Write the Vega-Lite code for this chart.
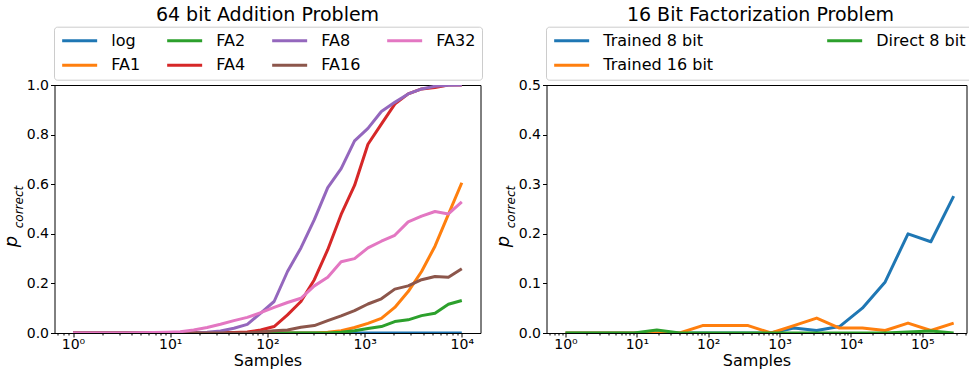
{
  "$schema": "https://vega.github.io/schema/vega-lite/v6.json",
  "background": "white",
  "padding": {"left": 1.5, "top": 5, "right": 0, "bottom": 0},
  "bounds": "flush",
  "spacing": 66,
  "resolve": {"scale": {"color": "independent"}, "legend": {"color": "independent"}},
  "config": {
    "font": "DejaVu Sans",
    "view": {"stroke": "black", "strokeWidth": 1},
    "axis": {
      "domain": false, "grid": false, "tickColor": "black", "tickSize": 4, "tickWidth": 1,
      "labelColor": "black", "labelFont": "DejaVu Sans", "labelFontSize": 14,
      "titleColor": "black", "titleFont": "DejaVu Sans", "titleFontSize": 16, "titleFontWeight": "normal"
    },
    "title": {"font": "DejaVu Sans", "fontSize": 19, "fontWeight": "normal", "color": "black", "frame": "group", "anchor": "middle", "offset": 1},
    "legend": {"labelFont": "DejaVu Sans", "labelColor": "black"}
  },
  "datasets": {
    "add": [
      {"samples":1,"series":"log","p":0},{"samples":1.374,"series":"log","p":0},{"samples":1.887,"series":"log","p":0},{"samples":2.593,"series":"log","p":0},{"samples":3.562,"series":"log","p":0},{"samples":4.894,"series":"log","p":0},{"samples":6.723,"series":"log","p":0},{"samples":9.237,"series":"log","p":0},{"samples":12.69,"series":"log","p":0},{"samples":17.43,"series":"log","p":0},{"samples":23.95,"series":"log","p":0},{"samples":32.9,"series":"log","p":0},{"samples":45.2,"series":"log","p":0},{"samples":62.1,"series":"log","p":0},{"samples":85.3,"series":"log","p":0},{"samples":117.2,"series":"log","p":0},{"samples":161.0,"series":"log","p":0},{"samples":221.2,"series":"log","p":0},{"samples":303.9,"series":"log","p":0},{"samples":417.5,"series":"log","p":0},{"samples":573.6,"series":"log","p":0},{"samples":788.0,"series":"log","p":0},{"samples":1082.6,"series":"log","p":0},{"samples":1487.4,"series":"log","p":0},{"samples":2043.4,"series":"log","p":0},{"samples":2807.2,"series":"log","p":0},{"samples":3856.6,"series":"log","p":0},{"samples":5298.3,"series":"log","p":0},{"samples":7278.9,"series":"log","p":0},{"samples":10000,"series":"log","p":0},
      {"samples":1,"series":"FA1","p":0},{"samples":1.374,"series":"FA1","p":0},{"samples":1.887,"series":"FA1","p":0},{"samples":2.593,"series":"FA1","p":0},{"samples":3.562,"series":"FA1","p":0},{"samples":4.894,"series":"FA1","p":0},{"samples":6.723,"series":"FA1","p":0},{"samples":9.237,"series":"FA1","p":0},{"samples":12.69,"series":"FA1","p":0},{"samples":17.43,"series":"FA1","p":0},{"samples":23.95,"series":"FA1","p":0},{"samples":32.9,"series":"FA1","p":0},{"samples":45.2,"series":"FA1","p":0},{"samples":62.1,"series":"FA1","p":0},{"samples":85.3,"series":"FA1","p":0},{"samples":117.2,"series":"FA1","p":0},{"samples":161.0,"series":"FA1","p":0},{"samples":221.2,"series":"FA1","p":0},{"samples":303.9,"series":"FA1","p":0},{"samples":417.5,"series":"FA1","p":0.003},{"samples":573.6,"series":"FA1","p":0.009},{"samples":788.0,"series":"FA1","p":0.022},{"samples":1082.6,"series":"FA1","p":0.039},{"samples":1487.4,"series":"FA1","p":0.059},{"samples":2043.4,"series":"FA1","p":0.103},{"samples":2807.2,"series":"FA1","p":0.167},{"samples":3856.6,"series":"FA1","p":0.248},{"samples":5298.3,"series":"FA1","p":0.35},{"samples":7278.9,"series":"FA1","p":0.478},{"samples":10000,"series":"FA1","p":0.606},
      {"samples":1,"series":"FA2","p":0},{"samples":1.374,"series":"FA2","p":0},{"samples":1.887,"series":"FA2","p":0},{"samples":2.593,"series":"FA2","p":0},{"samples":3.562,"series":"FA2","p":0},{"samples":4.894,"series":"FA2","p":0},{"samples":6.723,"series":"FA2","p":0},{"samples":9.237,"series":"FA2","p":0},{"samples":12.69,"series":"FA2","p":0},{"samples":17.43,"series":"FA2","p":0},{"samples":23.95,"series":"FA2","p":0},{"samples":32.9,"series":"FA2","p":0},{"samples":45.2,"series":"FA2","p":0},{"samples":62.1,"series":"FA2","p":0},{"samples":85.3,"series":"FA2","p":0},{"samples":117.2,"series":"FA2","p":0},{"samples":161.0,"series":"FA2","p":0},{"samples":221.2,"series":"FA2","p":0},{"samples":303.9,"series":"FA2","p":0},{"samples":417.5,"series":"FA2","p":0},{"samples":573.6,"series":"FA2","p":0.003},{"samples":788.0,"series":"FA2","p":0.009},{"samples":1082.6,"series":"FA2","p":0.018},{"samples":1487.4,"series":"FA2","p":0.026},{"samples":2043.4,"series":"FA2","p":0.046},{"samples":2807.2,"series":"FA2","p":0.053},{"samples":3856.6,"series":"FA2","p":0.07},{"samples":5298.3,"series":"FA2","p":0.08},{"samples":7278.9,"series":"FA2","p":0.116},{"samples":10000,"series":"FA2","p":0.131},
      {"samples":1,"series":"FA4","p":0},{"samples":1.374,"series":"FA4","p":0},{"samples":1.887,"series":"FA4","p":0},{"samples":2.593,"series":"FA4","p":0},{"samples":3.562,"series":"FA4","p":0},{"samples":4.894,"series":"FA4","p":0},{"samples":6.723,"series":"FA4","p":0},{"samples":9.237,"series":"FA4","p":0},{"samples":12.69,"series":"FA4","p":0},{"samples":17.43,"series":"FA4","p":0},{"samples":23.95,"series":"FA4","p":0},{"samples":32.9,"series":"FA4","p":0.001},{"samples":45.2,"series":"FA4","p":0.002},{"samples":62.1,"series":"FA4","p":0.004},{"samples":85.3,"series":"FA4","p":0.012},{"samples":117.2,"series":"FA4","p":0.026},{"samples":161.0,"series":"FA4","p":0.073},{"samples":221.2,"series":"FA4","p":0.127},{"samples":303.9,"series":"FA4","p":0.215},{"samples":417.5,"series":"FA4","p":0.336},{"samples":573.6,"series":"FA4","p":0.478},{"samples":788.0,"series":"FA4","p":0.595},{"samples":1082.6,"series":"FA4","p":0.761},{"samples":1487.4,"series":"FA4","p":0.842},{"samples":2043.4,"series":"FA4","p":0.923},{"samples":2807.2,"series":"FA4","p":0.964},{"samples":3856.6,"series":"FA4","p":0.984},{"samples":5298.3,"series":"FA4","p":0.99},{"samples":7278.9,"series":"FA4","p":1.0},{"samples":10000,"series":"FA4","p":1.0},
      {"samples":1,"series":"FA8","p":0},{"samples":1.374,"series":"FA8","p":0},{"samples":1.887,"series":"FA8","p":0},{"samples":2.593,"series":"FA8","p":0},{"samples":3.562,"series":"FA8","p":0},{"samples":4.894,"series":"FA8","p":0},{"samples":6.723,"series":"FA8","p":0},{"samples":9.237,"series":"FA8","p":0},{"samples":12.69,"series":"FA8","p":0},{"samples":17.43,"series":"FA8","p":0},{"samples":23.95,"series":"FA8","p":0.003},{"samples":32.9,"series":"FA8","p":0.008},{"samples":45.2,"series":"FA8","p":0.019},{"samples":62.1,"series":"FA8","p":0.035},{"samples":85.3,"series":"FA8","p":0.08},{"samples":117.2,"series":"FA8","p":0.127},{"samples":161.0,"series":"FA8","p":0.248},{"samples":221.2,"series":"FA8","p":0.343},{"samples":303.9,"series":"FA8","p":0.457},{"samples":417.5,"series":"FA8","p":0.586},{"samples":573.6,"series":"FA8","p":0.663},{"samples":788.0,"series":"FA8","p":0.775},{"samples":1082.6,"series":"FA8","p":0.825},{"samples":1487.4,"series":"FA8","p":0.893},{"samples":2043.4,"series":"FA8","p":0.93},{"samples":2807.2,"series":"FA8","p":0.964},{"samples":3856.6,"series":"FA8","p":0.984},{"samples":5298.3,"series":"FA8","p":0.995},{"samples":7278.9,"series":"FA8","p":0.999},{"samples":10000,"series":"FA8","p":1.0},
      {"samples":1,"series":"FA16","p":0},{"samples":1.374,"series":"FA16","p":0},{"samples":1.887,"series":"FA16","p":0},{"samples":2.593,"series":"FA16","p":0},{"samples":3.562,"series":"FA16","p":0},{"samples":4.894,"series":"FA16","p":0},{"samples":6.723,"series":"FA16","p":0},{"samples":9.237,"series":"FA16","p":0},{"samples":12.69,"series":"FA16","p":0},{"samples":17.43,"series":"FA16","p":0},{"samples":23.95,"series":"FA16","p":0},{"samples":32.9,"series":"FA16","p":0},{"samples":45.2,"series":"FA16","p":0},{"samples":62.1,"series":"FA16","p":0},{"samples":85.3,"series":"FA16","p":0.004},{"samples":117.2,"series":"FA16","p":0.009},{"samples":161.0,"series":"FA16","p":0.012},{"samples":221.2,"series":"FA16","p":0.023},{"samples":303.9,"series":"FA16","p":0.03},{"samples":417.5,"series":"FA16","p":0.05},{"samples":573.6,"series":"FA16","p":0.069},{"samples":788.0,"series":"FA16","p":0.09},{"samples":1082.6,"series":"FA16","p":0.117},{"samples":1487.4,"series":"FA16","p":0.138},{"samples":2043.4,"series":"FA16","p":0.177},{"samples":2807.2,"series":"FA16","p":0.19},{"samples":3856.6,"series":"FA16","p":0.215},{"samples":5298.3,"series":"FA16","p":0.228},{"samples":7278.9,"series":"FA16","p":0.225},{"samples":10000,"series":"FA16","p":0.259},
      {"samples":1,"series":"FA32","p":0},{"samples":1.374,"series":"FA32","p":0},{"samples":1.887,"series":"FA32","p":0},{"samples":2.593,"series":"FA32","p":0},{"samples":3.562,"series":"FA32","p":0},{"samples":4.894,"series":"FA32","p":0.001},{"samples":6.723,"series":"FA32","p":0.002},{"samples":9.237,"series":"FA32","p":0.003},{"samples":12.69,"series":"FA32","p":0.005},{"samples":17.43,"series":"FA32","p":0.012},{"samples":23.95,"series":"FA32","p":0.022},{"samples":32.9,"series":"FA32","p":0.035},{"samples":45.2,"series":"FA32","p":0.05},{"samples":62.1,"series":"FA32","p":0.063},{"samples":85.3,"series":"FA32","p":0.082},{"samples":117.2,"series":"FA32","p":0.103},{"samples":161.0,"series":"FA32","p":0.123},{"samples":221.2,"series":"FA32","p":0.14},{"samples":303.9,"series":"FA32","p":0.19},{"samples":417.5,"series":"FA32","p":0.225},{"samples":573.6,"series":"FA32","p":0.287},{"samples":788.0,"series":"FA32","p":0.3},{"samples":1082.6,"series":"FA32","p":0.343},{"samples":1487.4,"series":"FA32","p":0.37},{"samples":2043.4,"series":"FA32","p":0.394},{"samples":2807.2,"series":"FA32","p":0.448},{"samples":3856.6,"series":"FA32","p":0.471},{"samples":5298.3,"series":"FA32","p":0.49},{"samples":7278.9,"series":"FA32","p":0.48},{"samples":10000,"series":"FA32","p":0.529}
    ],
    "fact": [
      {"samples":1,"series":"Trained 8 bit","p":0},{"samples":2.089,"series":"Trained 8 bit","p":0},{"samples":4.365,"series":"Trained 8 bit","p":0},{"samples":9.12,"series":"Trained 8 bit","p":0},{"samples":19.05,"series":"Trained 8 bit","p":0},{"samples":39.81,"series":"Trained 8 bit","p":0},{"samples":83.18,"series":"Trained 8 bit","p":0},{"samples":173.8,"series":"Trained 8 bit","p":0},{"samples":363.1,"series":"Trained 8 bit","p":0},{"samples":758.6,"series":"Trained 8 bit","p":0},{"samples":1585,"series":"Trained 8 bit","p":0.01},{"samples":3311,"series":"Trained 8 bit","p":0.005},{"samples":6918,"series":"Trained 8 bit","p":0.013},{"samples":14454,"series":"Trained 8 bit","p":0.05},{"samples":30200,"series":"Trained 8 bit","p":0.103},{"samples":63096,"series":"Trained 8 bit","p":0.2},{"samples":131826,"series":"Trained 8 bit","p":0.184},{"samples":275423,"series":"Trained 8 bit","p":0.276},
      {"samples":1,"series":"Trained 16 bit","p":0},{"samples":2.089,"series":"Trained 16 bit","p":0},{"samples":4.365,"series":"Trained 16 bit","p":0},{"samples":9.12,"series":"Trained 16 bit","p":0},{"samples":19.05,"series":"Trained 16 bit","p":0},{"samples":39.81,"series":"Trained 16 bit","p":0},{"samples":83.18,"series":"Trained 16 bit","p":0.015},{"samples":173.8,"series":"Trained 16 bit","p":0.015},{"samples":363.1,"series":"Trained 16 bit","p":0.015},{"samples":758.6,"series":"Trained 16 bit","p":0},{"samples":1585,"series":"Trained 16 bit","p":0.015},{"samples":3311,"series":"Trained 16 bit","p":0.03},{"samples":6918,"series":"Trained 16 bit","p":0.01},{"samples":14454,"series":"Trained 16 bit","p":0.01},{"samples":30200,"series":"Trained 16 bit","p":0.005},{"samples":63096,"series":"Trained 16 bit","p":0.02},{"samples":131826,"series":"Trained 16 bit","p":0.005},{"samples":275423,"series":"Trained 16 bit","p":0.02},
      {"samples":1,"series":"Direct 8 bit","p":0},{"samples":2.089,"series":"Direct 8 bit","p":0},{"samples":4.365,"series":"Direct 8 bit","p":0},{"samples":9.12,"series":"Direct 8 bit","p":0},{"samples":19.05,"series":"Direct 8 bit","p":0.006},{"samples":39.81,"series":"Direct 8 bit","p":0},{"samples":83.18,"series":"Direct 8 bit","p":0},{"samples":173.8,"series":"Direct 8 bit","p":0},{"samples":363.1,"series":"Direct 8 bit","p":0},{"samples":758.6,"series":"Direct 8 bit","p":0},{"samples":1585,"series":"Direct 8 bit","p":0},{"samples":3311,"series":"Direct 8 bit","p":0},{"samples":6918,"series":"Direct 8 bit","p":0},{"samples":14454,"series":"Direct 8 bit","p":0},{"samples":30200,"series":"Direct 8 bit","p":0},{"samples":63096,"series":"Direct 8 bit","p":0.002},{"samples":131826,"series":"Direct 8 bit","p":0.004},{"samples":275423,"series":"Direct 8 bit","p":0}
    ]
  },
  "hconcat": [
    {
      "width": 426, "height": 248,
      "title": {"text": "64 bit Addition Problem"},
      "data": {"name": "add"},
      "layer": [
        {
          "mark": {"type": "line", "strokeWidth": 3, "clip": true, "strokeJoin": "round"},
          "encoding": {
            "x": {"field": "samples", "type": "quantitative",
              "scale": {"type": "log", "domain": [0.645, 15573], "nice": false},
              "axis": {"orient": "bottom", "values": [1, 10, 100, 1000, 10000], "title": "Samples", "labelPadding": 0, "titlePadding": 1,
                "labelExpr": "datum.value == 1 ? '10⁰' : datum.value == 10 ? '10¹' : datum.value == 100 ? '10²' : datum.value == 1000 ? '10³' : datum.value == 10000 ? '10⁴' : '10⁵'"}},
            "y": {"field": "p", "type": "quantitative",
              "scale": {"domain": [0, 1], "nice": false, "zero": false},
              "axis": {"orient": "left", "values": [0, 0.2, 0.4, 0.6, 0.8, 1], "format": ".1f", "labelPadding": 2,
                "title": "p", "titleFontStyle": "italic", "titleFontSize": 18, "titleAngle": -90, "titleX": -38.5, "titleY": 156, "titleBaseline": "alphabetic", "titleAlign": "center"}},
            "color": {"field": "series", "type": "nominal",
              "scale": {"domain": ["log", "FA1", "FA2", "FA4", "FA8", "FA16", "FA32"], "range": ["#1f77b4", "#ff7f0e", "#2ca02c", "#d62728", "#9467bd", "#8c564b", "#e377c2"]},
              "legend": {"orient": "none", "legendX": -0.5, "legendY": -58.3, "columns": 4, "title": null, "symbolType": "M-1,0H5", "symbolSize": 136, "symbolStrokeWidth": 3,
                "labelFontSize": 16, "labelOffset": 35.3, "columnPadding": 20, "rowPadding": 8.5, "padding": 6, "strokeColor": "#cccccc", "fillColor": "white", "cornerRadius": 3, "gridAlign": "each"}}
          }
        },
        {
          "mark": {"type": "point", "opacity": 0},
          "encoding": {
            "x": {"field": "samples", "type": "quantitative",
              "axis": {"orient": "bottom", "values": [0.7, 0.8, 0.9, 2, 3, 4, 5, 6, 7, 8, 9, 20, 30, 40, 50, 60, 70, 80, 90, 200, 300, 400, 500, 600, 700, 800, 900, 2000, 3000, 4000, 5000, 6000, 7000, 8000, 9000], "labels": false, "tickSize": 2, "title": null}},
            "y": {"field": "p", "type": "quantitative",
              "axis": {"orient": "left", "labels": false, "ticks": false, "title": "correct", "titleFontStyle": "italic", "titleFontSize": 12, "titleAngle": -90, "titleX": -32, "titleY": 121.5, "titleBaseline": "alphabetic", "titleAlign": "center"}}
          }
        }
      ],
      "resolve": {"axis": {"x": "independent", "y": "independent"}}
    },
    {
      "width": 420, "height": 248,
      "title": {"text": "16 Bit Factorization Problem", "dx": 4},
      "data": {"name": "fact"},
      "layer": [
        {
          "mark": {"type": "line", "strokeWidth": 3, "clip": true, "strokeJoin": "round"},
          "encoding": {
            "x": {"field": "samples", "type": "quantitative",
              "scale": {"type": "log", "domain": [0.5417, 416500], "nice": false},
              "axis": {"orient": "bottom", "values": [1, 10, 100, 1000, 10000, 100000], "title": "Samples", "labelPadding": 0, "titlePadding": 1,
                "labelExpr": "datum.value == 1 ? '10⁰' : datum.value == 10 ? '10¹' : datum.value == 100 ? '10²' : datum.value == 1000 ? '10³' : datum.value == 10000 ? '10⁴' : '10⁵'"}},
            "y": {"field": "p", "type": "quantitative",
              "scale": {"domain": [0, 0.5], "nice": false, "zero": false},
              "axis": {"orient": "left", "values": [0, 0.1, 0.2, 0.3, 0.4, 0.5], "format": ".1f", "labelPadding": 2,
                "title": "p", "titleFontStyle": "italic", "titleFontSize": 18, "titleAngle": -90, "titleX": -38.5, "titleY": 156, "titleBaseline": "alphabetic", "titleAlign": "center"}},
            "color": {"field": "series", "type": "nominal",
              "scale": {"domain": ["Trained 8 bit", "Trained 16 bit", "Direct 8 bit"], "range": ["#1f77b4", "#ff7f0e", "#2ca02c"]},
              "legend": {"orient": "none", "legendX": -0.5, "legendY": -58.3, "columns": 2, "title": null, "symbolType": "M-1,0H5", "symbolSize": 136, "symbolStrokeWidth": 3,
                "labelFontSize": 16, "labelOffset": 35.3, "columnPadding": 107, "rowPadding": 8.5, "padding": 6, "strokeColor": "#cccccc", "fillColor": "white", "cornerRadius": 3, "gridAlign": "each"}}
          }
        },
        {
          "mark": {"type": "point", "opacity": 0},
          "encoding": {
            "x": {"field": "samples", "type": "quantitative",
              "axis": {"orient": "bottom", "values": [0.6, 0.7, 0.8, 0.9, 2, 3, 4, 5, 6, 7, 8, 9, 20, 30, 40, 50, 60, 70, 80, 90, 200, 300, 400, 500, 600, 700, 800, 900, 2000, 3000, 4000, 5000, 6000, 7000, 8000, 9000, 20000, 30000, 40000, 50000, 60000, 70000, 80000, 90000, 200000, 300000, 400000], "labels": false, "tickSize": 2, "title": null}},
            "y": {"field": "p", "type": "quantitative",
              "axis": {"orient": "left", "labels": false, "ticks": false, "title": "correct", "titleFontStyle": "italic", "titleFontSize": 12, "titleAngle": -90, "titleX": -32, "titleY": 121.5, "titleBaseline": "alphabetic", "titleAlign": "center"}}
          }
        }
      ],
      "resolve": {"axis": {"x": "independent", "y": "independent"}}
    }
  ]
}
